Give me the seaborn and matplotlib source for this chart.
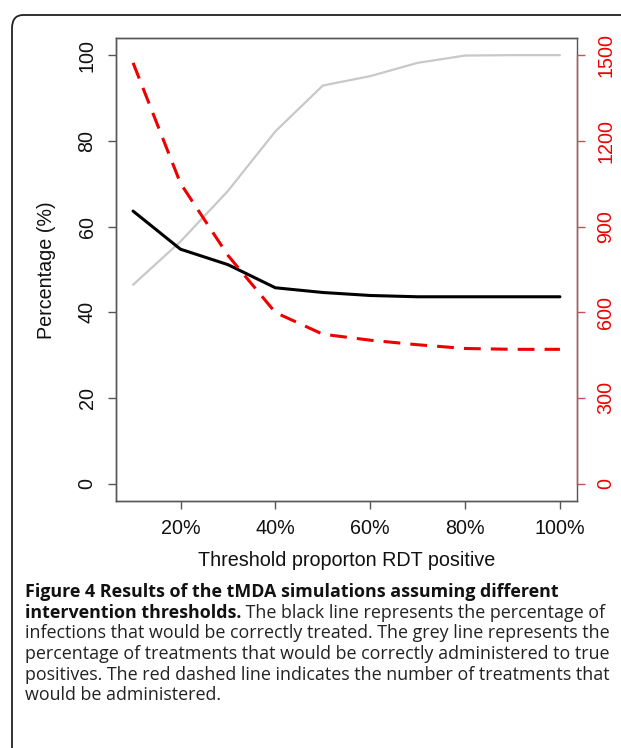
import numpy as np
import pandas as pd
import matplotlib
matplotlib.use("Agg")
import matplotlib.pyplot as plt
import seaborn as sns
from matplotlib.patches import FancyBboxPatch

# data
threshold = [10, 20, 30, 40, 50, 60, 70, 80, 90, 100]
correct_treated = [63.6, 54.7, 51.1, 45.7, 44.6, 43.9, 43.6, 43.6, 43.6, 43.6]   # black
true_positive = [46.4, 56.5, 68.3, 82.2, 92.9, 95.1, 98.2, 99.9, 100, 100]       # grey
n_treatments = [1473, 1051, 799, 599, 523, 502, 486, 473, 470, 470]               # red dashed

x_ticks = [20, 40, 60, 80, 100]
x_ticklabels = ["20%", "40%", "60%", "80%", "100%"]
left_ticks = [0, 20, 40, 60, 80, 100]
right_ticks = [0, 300, 600, 900, 1200, 1500]

caption = [
    ("Figure 4 Results of the tMDA simulations assuming different", ""),
    ("intervention thresholds.", " The black line represents the percentage of"),
    ("", "infections that would be correctly treated. The grey line represents the"),
    ("", "percentage of treatments that would be correctly administered to true"),
    ("", "positives. The red dashed line indicates the number of treatments that"),
    ("", "would be administered."),
]

df = pd.DataFrame({"threshold": threshold, "black": correct_treated,
                   "grey": true_positive, "red": n_treatments})

sns.set_style("white")
plt.rcParams['font.family'] = ['Liberation Sans', 'DejaVu Sans']

W, H = 621, 748
fig = plt.figure(figsize=(W / 100, H / 100), dpi=100)

# rounded frame round the whole figure (cut at right and bottom)
box = FancyBboxPatch((12 / W, -0.05), 1.2, 1 - 15 / H + 0.05,
                     boxstyle="round,pad=0,rounding_size=0.018",
                     transform=fig.transFigure, fill=False,
                     edgecolor="#222222", linewidth=1.3)
fig.patches.append(box)

ax = fig.add_axes([116 / W, 1 - 500.7 / H, (577 - 116) / W, (500.7 - 38) / H])
ax2 = ax.twinx()

sns.lineplot(data=df, x="threshold", y="grey", ax=ax, color="#c8c8c8", linewidth=1.6)
sns.lineplot(data=df, x="threshold", y="black", ax=ax, color="black", linewidth=2.2)
sns.lineplot(data=df, x="threshold", y="red", ax=ax2, color="#ee0000", linewidth=2.2)
ax2.lines[0].set_dashes([5.5, 3.3])

ax.set_xlim(6.4, 103.6)
ax.set_ylim(-4, 104)
ax2.set_ylim(-60, 1560)

ax.set_xticks(x_ticks)
ax.set_xticklabels(x_ticklabels)
ax.set_yticks(left_ticks)
ax.set_yticklabels([str(v) for v in left_ticks], rotation=90, va="center")
ax2.set_yticks(right_ticks)
ax2.set_yticklabels([str(v) for v in right_ticks], rotation=90, va="center")

for a in (ax, ax2):
    for s in a.spines.values():
        s.set_color("#555555")
        s.set_linewidth(1.0)
ax2.spines["right"].set_bounds(0, 1500)
ax2.spines["right"].set_color("#c85050")

ax.tick_params(axis="both", direction="out", length=5.5, width=1.0, color="#555555",
               labelsize=14.2, pad=8, labelcolor="#111111")
ax.tick_params(axis="y", left=True, pad=8.5)
ax.tick_params(axis="x", bottom=True, pad=7.5)
ax2.tick_params(axis="y", right=True, direction="out", length=5.5, width=1.0,
                color="#c85050", labelsize=14.2, labelcolor="#ee0000", pad=8.5)

ax.set_xlabel("")
ax.set_ylabel("")
ax2.set_ylabel("")
fig.text(347 / W, 1 - 560 / H, "Threshold proporton RDT positive", fontsize=14.2,
         ha="center", va="center", color="#111111")
fig.text(47 / W, 1 - 270 / H, "Percentage (%)", fontsize=14.2, rotation=90,
         ha="center", va="center", color="#111111")

# caption, bold lead-in followed by normal text
renderer = fig.canvas.get_renderer()
cap_font = ["Open Sans", "DejaVu Sans"]
cap_size = 12.9
y0 = 592
for i, (bold, normal) in enumerate(caption):
    y = 1 - (y0 + i * 20.7) / H
    x = 25 / W
    if bold:
        t = fig.text(x, y, bold, fontsize=cap_size, fontweight="bold",
                     family=cap_font, ha="left", va="center", color="#111111")
        bb = t.get_window_extent(renderer)
        x = bb.x1 / W
    if normal:
        fig.text(x, y, normal, fontsize=cap_size, family=cap_font,
                 ha="left", va="center", color="#222222")

fig.savefig("out.png", dpi=100)
